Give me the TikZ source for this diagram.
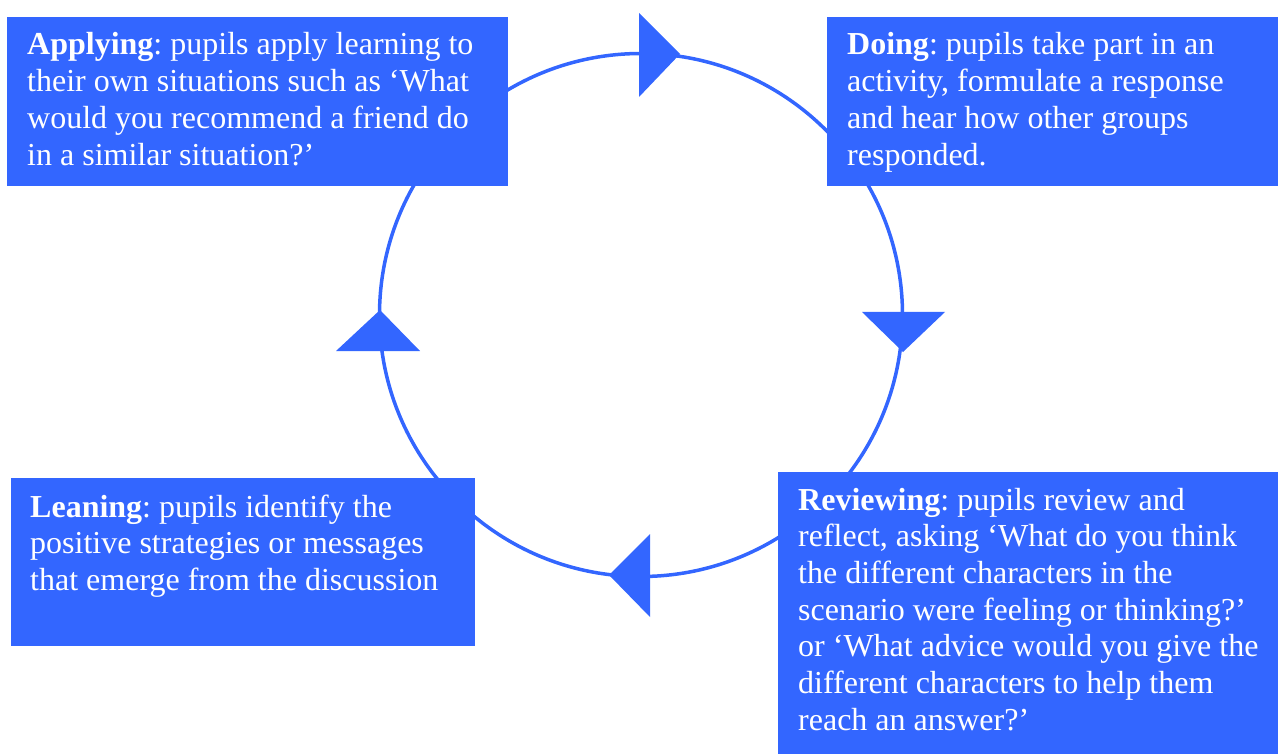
\documentclass[tikz,border=0pt]{standalone}
\usepackage{fontspec}
\setmainfont{Liberation Serif}
\definecolor{cblue}{RGB}{51,102,255}
\frenchspacing
\begin{document}
\begin{tikzpicture}[x=1pt,y=-1pt,
  box/.style={fill=cblue, draw=none, anchor=north west, inner sep=0pt},
  txt/.style={anchor=base west, inner sep=0pt, text=white, font=\fontsize{32}{36.7}\selectfont\frenchspacing},
  ring/.style={draw=cblue, line width=3.5pt},
  tri/.style={fill=cblue}]
\useasboundingbox (0,0) rectangle (1278,754);
% cycle
\coordinate (c) at (641,315);
\draw[ring] (c) circle[radius=261.5pt];
\fill[tri] (639,13) -- (680,54) -- (639,97) -- cycle;
\fill[tri] (862,312) -- (945,312) -- (903,352) -- cycle;
\fill[tri] (650,534) -- (609,575) -- (650,617) -- cycle;
\fill[tri] (336,351) -- (420,351) -- (380,310) -- cycle;
% boxes
\node[box, minimum width=501pt, minimum height=169pt] (app) at (7,17) {};
\node[box, minimum width=451pt, minimum height=169pt] (doi) at (827,17) {};
\node[box, minimum width=464pt, minimum height=168pt] (lea) at (11,478) {};
\node[box, minimum width=500pt, minimum height=282pt] (rev) at (778,472) {};
% texts
\node[txt] (appt) at (27,55) {\begin{tabular}[t]{@{}l@{}}\textbf{Applying}: pupils apply learning to\\their own situations such as ‘What\\would you recommend a friend do\\in a similar situation?’\end{tabular}};
\node[txt] (doit) at (847,55) {\begin{tabular}[t]{@{}l@{}}\textbf{Doing}: pupils take part in an\\activity, formulate a response\\and hear how other groups\\responded.\end{tabular}};
\node[txt] (leat) at (30,517) {\begin{tabular}[t]{@{}l@{}}\textbf{Leaning}: pupils identify the\\positive strategies or messages\\that emerge from the discussion\end{tabular}};
\node[txt] (revt) at (798,510) {\begin{tabular}[t]{@{}l@{}}\textbf{Reviewing}: pupils review and\\reflect, asking ‘What do you think\\the different characters in the\\scenario were feeling or thinking?’\\or ‘What advice would you give the\\different characters to help them\\reach an answer?’\end{tabular}};
\end{tikzpicture}
\end{document}
